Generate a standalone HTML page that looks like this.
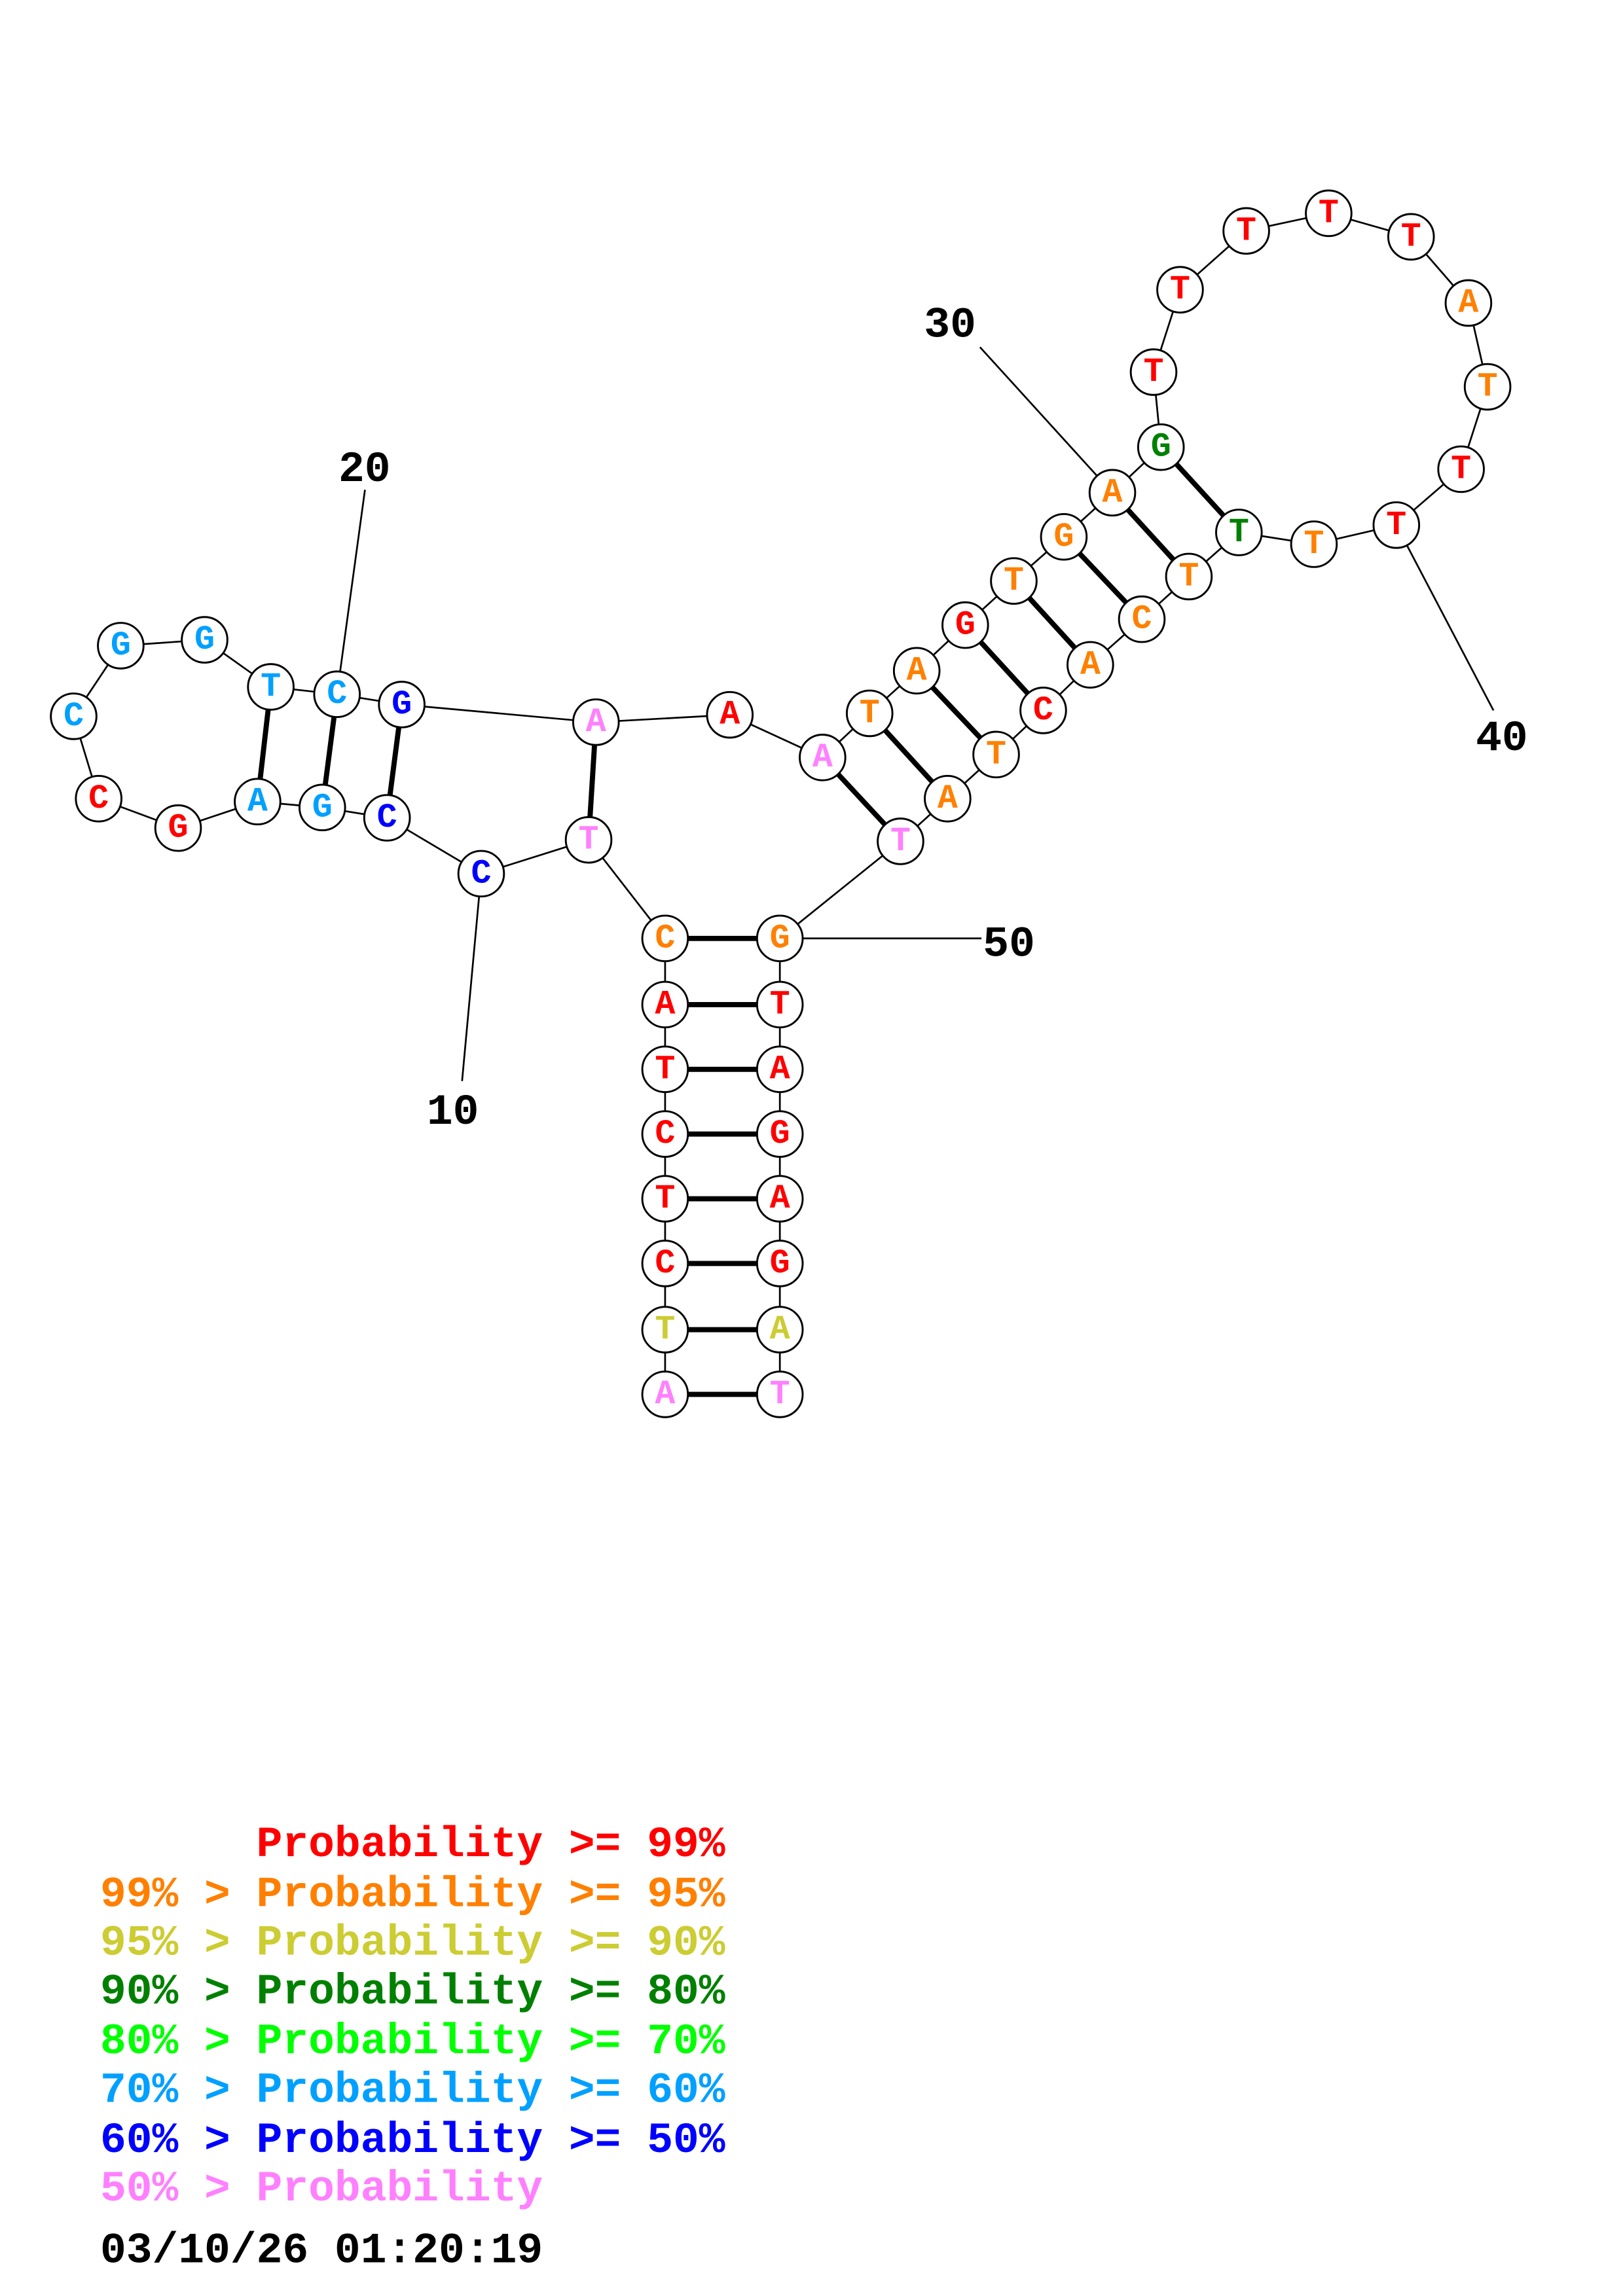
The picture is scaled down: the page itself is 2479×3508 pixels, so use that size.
<!DOCTYPE html>
<html><head><meta charset="utf-8"><style>
html,body{margin:0;padding:0;background:#fff}
svg{display:block}
.n{font-family:"Liberation Mono",monospace;font-weight:bold;font-size:23px;text-anchor:middle;dominant-baseline:central}
.l{font-family:"Liberation Mono",monospace;font-weight:bold;font-size:29.5px}
</style></head><body>
<svg width="2479" height="3508" viewBox="0 0 1103 1561" xmlns="http://www.w3.org/2000/svg">
<g stroke="#000" stroke-width="1.2" fill="none">
<polyline points="452,948 452,904 452,859 452,815 452,771 452,727 452,683 452,638 400,571 327,594 263,556 219,549 175,545 121,563 67,543 50,487 82,439 139,435 184,467 229,472 273,479 405,491 496,486 559,515 591,485 623,456 656,425 689,395 723,365 756,335 789,304 784,253 802,197 847,157 903,145 959,161 998,206 1011,263 993,319 949,357 893,370 842,362 808,392 776,421 741,452 709,483 677,513 644,543 612,572 530,638 530,683 530,727 530,771 530,815 530,859 530,904 530,948"/>
<line x1="327" y1="594" x2="314" y2="735"/>
<line x1="229" y1="472" x2="248" y2="333"/>
<line x1="756" y1="335" x2="666" y2="236"/>
<line x1="949" y1="357" x2="1015" y2="483"/>
<line x1="530" y1="638" x2="667" y2="638"/>
</g>
<g stroke="#000" stroke-width="3.5">
<line x1="452" y1="948" x2="530" y2="948"/><line x1="452" y1="904" x2="530" y2="904"/>
<line x1="452" y1="859" x2="530" y2="859"/><line x1="452" y1="815" x2="530" y2="815"/>
<line x1="452" y1="771" x2="530" y2="771"/><line x1="452" y1="727" x2="530" y2="727"/>
<line x1="452" y1="683" x2="530" y2="683"/><line x1="452" y1="638" x2="530" y2="638"/>
<line x1="400" y1="571" x2="405" y2="491"/><line x1="263" y1="556" x2="273" y2="479"/>
<line x1="219" y1="549" x2="229" y2="472"/><line x1="175" y1="545" x2="184" y2="467"/>
<line x1="559" y1="515" x2="612" y2="572"/><line x1="591" y1="485" x2="644" y2="543"/>
<line x1="623" y1="456" x2="677" y2="513"/><line x1="656" y1="425" x2="709" y2="483"/>
<line x1="689" y1="395" x2="741" y2="452"/><line x1="723" y1="365" x2="776" y2="421"/>
<line x1="756" y1="335" x2="808" y2="392"/><line x1="789" y1="304" x2="842" y2="362"/>
</g>
<g stroke="#000" stroke-width="1.3" fill="#fff">
<circle cx="452" cy="948" r="15.5"/><circle cx="452" cy="904" r="15.5"/><circle cx="452" cy="859" r="15.5"/><circle cx="452" cy="815" r="15.5"/><circle cx="452" cy="771" r="15.5"/><circle cx="452" cy="727" r="15.5"/><circle cx="452" cy="683" r="15.5"/><circle cx="452" cy="638" r="15.5"/>
<circle cx="400" cy="571" r="15.5"/><circle cx="327" cy="594" r="15.5"/><circle cx="263" cy="556" r="15.5"/><circle cx="219" cy="549" r="15.5"/><circle cx="175" cy="545" r="15.5"/><circle cx="121" cy="563" r="15.5"/><circle cx="67" cy="543" r="15.5"/><circle cx="50" cy="487" r="15.5"/><circle cx="82" cy="439" r="15.5"/><circle cx="139" cy="435" r="15.5"/><circle cx="184" cy="467" r="15.5"/><circle cx="229" cy="472" r="15.5"/><circle cx="273" cy="479" r="15.5"/>
<circle cx="405" cy="491" r="15.5"/><circle cx="496" cy="486" r="15.5"/><circle cx="559" cy="515" r="15.5"/><circle cx="591" cy="485" r="15.5"/><circle cx="623" cy="456" r="15.5"/><circle cx="656" cy="425" r="15.5"/><circle cx="689" cy="395" r="15.5"/><circle cx="723" cy="365" r="15.5"/><circle cx="756" cy="335" r="15.5"/><circle cx="789" cy="304" r="15.5"/><circle cx="784" cy="253" r="15.5"/><circle cx="802" cy="197" r="15.5"/><circle cx="847" cy="157" r="15.5"/><circle cx="903" cy="145" r="15.5"/><circle cx="959" cy="161" r="15.5"/><circle cx="998" cy="206" r="15.5"/><circle cx="1011" cy="263" r="15.5"/><circle cx="993" cy="319" r="15.5"/><circle cx="949" cy="357" r="15.5"/><circle cx="893" cy="370" r="15.5"/><circle cx="842" cy="362" r="15.5"/><circle cx="808" cy="392" r="15.5"/><circle cx="776" cy="421" r="15.5"/><circle cx="741" cy="452" r="15.5"/><circle cx="709" cy="483" r="15.5"/><circle cx="677" cy="513" r="15.5"/><circle cx="644" cy="543" r="15.5"/><circle cx="612" cy="572" r="15.5"/>
<circle cx="530" cy="638" r="15.5"/><circle cx="530" cy="683" r="15.5"/><circle cx="530" cy="727" r="15.5"/><circle cx="530" cy="771" r="15.5"/><circle cx="530" cy="815" r="15.5"/><circle cx="530" cy="859" r="15.5"/><circle cx="530" cy="904" r="15.5"/><circle cx="530" cy="948" r="15.5"/>
</g>
<g class="n">
<text x="452" y="948" fill="#ff80ff">A</text><text x="452" y="904" fill="#cccc33">T</text><text x="452" y="859" fill="#f00">C</text><text x="452" y="815" fill="#f00">T</text><text x="452" y="771" fill="#f00">C</text><text x="452" y="727" fill="#f00">T</text><text x="452" y="683" fill="#f00">A</text><text x="452" y="638" fill="#ff8000">C</text>
<text x="400" y="571" fill="#ff80ff">T</text><text x="327" y="594" fill="#00f">C</text><text x="263" y="556" fill="#00f">C</text><text x="219" y="549" fill="#00a0ff">G</text><text x="175" y="545" fill="#00a0ff">A</text><text x="121" y="563" fill="#f00">G</text><text x="67" y="543" fill="#f00">C</text><text x="50" y="487" fill="#00a0ff">C</text><text x="82" y="439" fill="#00a0ff">G</text><text x="139" y="435" fill="#00a0ff">G</text><text x="184" y="467" fill="#00a0ff">T</text><text x="229" y="472" fill="#00a0ff">C</text><text x="273" y="479" fill="#00f">G</text>
<text x="405" y="491" fill="#ff80ff">A</text><text x="496" y="486" fill="#f00">A</text><text x="559" y="515" fill="#ff80ff">A</text><text x="591" y="485" fill="#ff8000">T</text><text x="623" y="456" fill="#ff8000">A</text><text x="656" y="425" fill="#f00">G</text><text x="689" y="395" fill="#ff8000">T</text><text x="723" y="365" fill="#ff8000">G</text><text x="756" y="335" fill="#ff8000">A</text><text x="789" y="304" fill="#008000">G</text><text x="784" y="253" fill="#f00">T</text><text x="802" y="197" fill="#f00">T</text><text x="847" y="157" fill="#f00">T</text><text x="903" y="145" fill="#f00">T</text><text x="959" y="161" fill="#f00">T</text><text x="998" y="206" fill="#ff8000">A</text><text x="1011" y="263" fill="#ff8000">T</text><text x="993" y="319" fill="#f00">T</text><text x="949" y="357" fill="#f00">T</text><text x="893" y="370" fill="#ff8000">T</text><text x="842" y="362" fill="#008000">T</text><text x="808" y="392" fill="#ff8000">T</text><text x="776" y="421" fill="#ff8000">C</text><text x="741" y="452" fill="#ff8000">A</text><text x="709" y="483" fill="#f00">C</text><text x="677" y="513" fill="#ff8000">T</text><text x="644" y="543" fill="#ff8000">A</text><text x="612" y="572" fill="#ff80ff">T</text>
<text x="530" y="638" fill="#ff8000">G</text><text x="530" y="683" fill="#f00">T</text><text x="530" y="727" fill="#f00">A</text><text x="530" y="771" fill="#f00">G</text><text x="530" y="815" fill="#f00">A</text><text x="530" y="859" fill="#f00">G</text><text x="530" y="904" fill="#cccc33">A</text><text x="530" y="948" fill="#ff80ff">T</text>
</g>
<g class="l" fill="#000">
<text x="290" y="764">10</text><text x="230" y="327">20</text><text x="628" y="229">30</text><text x="1003" y="510">40</text><text x="668" y="650">50</text>
</g>
<g class="l">
<text x="68" y="1262" fill="#f00" xml:space="preserve">      Probability &gt;= 99%</text>
<text x="68" y="1296" fill="#ff8000">99% &gt; Probability &gt;= 95%</text>
<text x="68" y="1329" fill="#cccc33">95% &gt; Probability &gt;= 90%</text>
<text x="68" y="1362" fill="#008000">90% &gt; Probability &gt;= 80%</text>
<text x="68" y="1396" fill="#00ff00">80% &gt; Probability &gt;= 70%</text>
<text x="68" y="1429" fill="#00a0ff">70% &gt; Probability &gt;= 60%</text>
<text x="68" y="1463" fill="#00f">60% &gt; Probability &gt;= 50%</text>
<text x="68" y="1496" fill="#ff80ff">50% &gt; Probability</text>
<text x="68" y="1538" fill="#000">03/10/26 01:20:19</text>
</g>
</svg>
</body></html>
